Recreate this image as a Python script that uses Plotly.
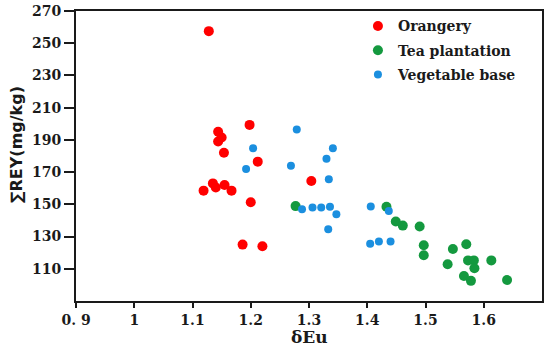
import plotly.graph_objects as go

# Orangery
orangery_x = [1.128, 1.144, 1.150, 1.144, 1.154, 1.198, 1.212, 1.119, 1.135, 1.140, 1.155, 1.167, 1.200, 1.186, 1.220, 1.304]
orangery_y = [257.5, 195.0, 191.5, 189.0, 182.0, 199.3, 176.5, 158.5, 163.0, 160.5, 162.0, 158.5, 151.3, 125.0, 124.0, 164.5]

# Tea plantation
tea_x = [1.277, 1.433, 1.449, 1.461, 1.490, 1.497, 1.497, 1.547, 1.570, 1.538, 1.573, 1.583, 1.584, 1.613, 1.566, 1.578, 1.640]
tea_y = [148.9, 148.5, 139.3, 136.8, 136.2, 124.6, 118.4, 122.3, 125.2, 112.8, 115.2, 115.2, 110.3, 115.2, 105.5, 102.5, 103.0]

# Vegetable base
veg_x = [1.192, 1.204, 1.279, 1.341, 1.330, 1.269, 1.334, 1.288, 1.306, 1.321, 1.336, 1.347, 1.333, 1.406, 1.437, 1.405, 1.420, 1.440]
veg_y = [171.9, 184.8, 196.4, 184.8, 178.3, 174.0, 165.6, 147.0, 148.0, 148.0, 148.5, 143.8, 134.6, 148.7, 145.8, 125.5, 127.0, 127.0]

x_ticks = [0.9, 1.0, 1.1, 1.2, 1.3, 1.4, 1.5, 1.6]
x_ticktext = ["0. 9", "1", "1.1", "1.2", "1.3", "1.4", "1.5", "1.6"]
y_ticks = [110, 130, 150, 170, 190, 210, 230, 250, 270]

fig = go.Figure()
fig.add_trace(go.Scatter(x=orangery_x, y=orangery_y, mode="markers", name="Orangery",
                         legendgroup="a",
                         marker=dict(color="#ff0000", size=10, line=dict(width=0))))
fig.add_trace(go.Scatter(x=tea_x, y=tea_y, mode="markers", name="Tea plantation",
                         legendgroup="b",
                         marker=dict(color="#14993f", size=10, line=dict(width=0))))
fig.add_trace(go.Scatter(x=veg_x, y=veg_y, mode="markers", name="Vegetable base",
                         legendgroup="c",
                         marker=dict(color="#1b8fdf", size=8, line=dict(width=0))))

serif = dict(family="DejaVu Serif", size=14, color="#1a1a1a", weight="bold")

fig.update_layout(
    width=550, height=350,
    margin=dict(l=76, r=8, t=11, b=49),
    paper_bgcolor="white", plot_bgcolor="white",
    showlegend=True,
    legend=dict(x=0.605, y=1.002, xanchor="left", yanchor="top",
                font=serif, bgcolor="rgba(0,0,0,0)",
                traceorder="grouped", tracegroupgap=3),
    xaxis=dict(range=[0.9, 1.7], tickvals=x_ticks, ticktext=x_ticktext,
               showgrid=False, zeroline=False, automargin=False,
               ticklabeloverflow="allow",
               showline=True, linecolor="#1a1a1a", linewidth=2, mirror=True,
               ticks="outside", ticklen=5, tickwidth=1.5, tickcolor="#1a1a1a",
               tickfont=serif),
    yaxis=dict(range=[90, 270], tickvals=y_ticks,
               showgrid=False, zeroline=False, automargin=False,
               ticklabeloverflow="allow",
               showline=True, linecolor="#1a1a1a", linewidth=2, mirror=True,
               ticks="outside", ticklen=10, tickwidth=1.5, tickcolor="#1a1a1a",
               tickfont=serif),
    annotations=[
        dict(text="δEu", xref="paper", yref="paper", x=0.502, y=-0.124,
             xanchor="center", yanchor="middle", showarrow=False,
             font=dict(family="DejaVu Serif", size=17, color="#1a1a1a", weight="bold")),
        dict(text="∑REY(mg/kg)", xref="paper", yref="paper", x=-0.129, y=0.541,
             xanchor="center", yanchor="middle", showarrow=False, textangle=-90,
             font=dict(family="DejaVu Sans", size=16, color="#1a1a1a", weight="bold")),
    ],
)

fig.write_html("out.html",
               config={"displayModeBar": False},
               post_script="document.body.style.margin='0';document.body.style.padding='0';")
